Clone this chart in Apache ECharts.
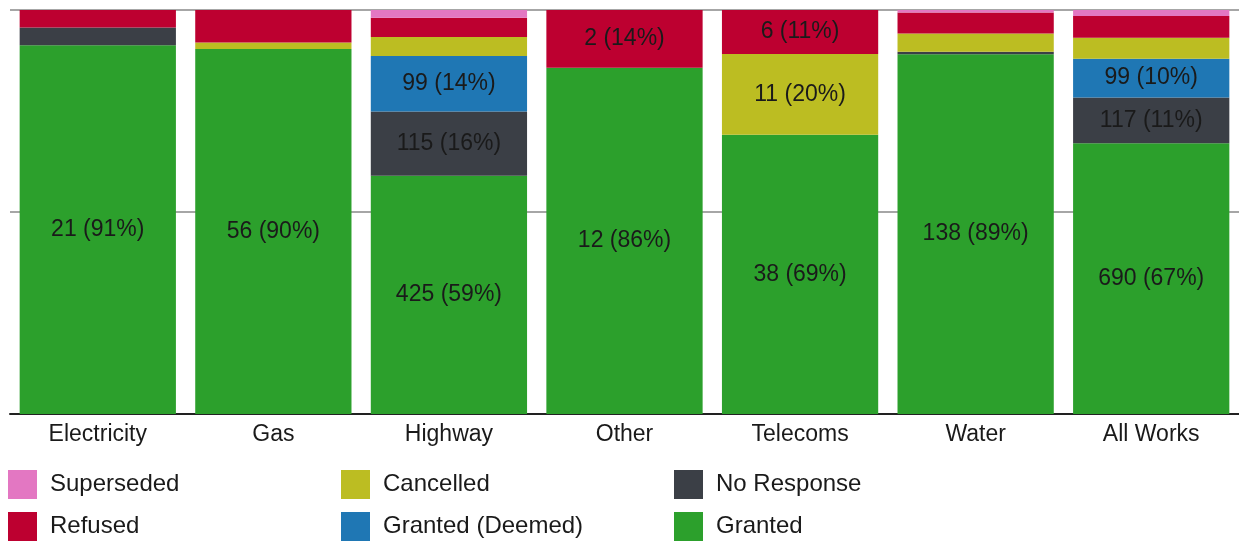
<!DOCTYPE html>
<html>
<head>
<meta charset="utf-8">
<script src="https://cdn.jsdelivr.net/npm/echarts@6/dist/echarts.min.js"></script>
<style>
  html, body { margin: 0; padding: 0; background: #fff; }
  #chart { width: 1239px; height: 542px; }
</style>
</head>
<body>
<div id="chart"></div>
<script>
// categories along the x axis
const categories = ["Electricity", "Gas", "Highway", "Other", "Telecoms", "Water", "All Works"];

// counts per outcome, stacked bottom to top
const granted      = [21, 56, 425, 12, 38, 138, 690];
const noResponse   = [1, 0, 115, 0, 0, 1, 117];
const grantedDeem  = [0, 0, 99, 0, 0, 0, 99];
const cancelled    = [0, 1, 34, 0, 11, 7, 53];
const refused      = [1, 5, 34, 2, 6, 8, 56];
const superseded   = [0, 0, 14, 0, 0, 1, 15];

const seriesNames = ["Granted", "No Response", "Granted (Deemed)", "Cancelled", "Refused", "Superseded"];
const seriesData = [granted, noResponse, grantedDeem, cancelled, refused, superseded];
const seriesColors = ["#2ca02c", "#3b3f46", "#1f77b4", "#bcbd22", "#bd0030", "#e377c2"];

const totals = categories.map((_, i) => seriesData.reduce((s, arr) => s + arr[i], 0));

const FONT = "Liberation Sans, Arial, sans-serif";

const chart = echarts.init(document.getElementById("chart"));

const series = seriesNames.map((name, k) => ({
  name,
  type: "bar",
  stack: "total",
  barCategoryGap: "11%",
  itemStyle: { color: seriesColors[k] },
  data: seriesData[k].map((v, i) => {
    const pct = (v / totals[i]) * 100;
    return {
      value: pct,
      label: {
        // only segments that round to 10% or more get a label
        show: Math.round(pct) >= 10,
        position: "inside",
        formatter: () => `${v} (${Math.round(pct)}%)`,
        color: "#1a1a1a",
        fontSize: 23,
        fontFamily: FONT,
      },
    };
  }),
}));

// legend laid out as a 3x2 grid
const legendLayout = [
  ["Superseded", 8, 470],
  ["Cancelled", 341, 470],
  ["No Response", 674, 470],
  ["Refused", 8, 512],
  ["Granted (Deemed)", 341, 512],
  ["Granted", 674, 512],
];

chart.setOption({
  animation: false,
  textStyle: { fontFamily: FONT },
  grid: { left: 10, right: -2, top: 10, bottom: 128 },
  legend: legendLayout.map(([name, x, y]) => ({
    data: [name],
    left: x,
    top: y,
    padding: 0,
    icon: "rect",
    itemWidth: 29,
    itemHeight: 29,
    textStyle: { fontSize: 24, color: "#1a1a1a", padding: [0, 0, 0, 8] },
    selectedMode: false,
  })),
  xAxis: {
    type: "category",
    data: categories,
    axisTick: { show: false },
    axisLine: { lineStyle: { color: "#222", width: 2 } },
    axisLabel: { fontSize: 23, color: "#1a1a1a", margin: 9 },
  },
  yAxis: {
    type: "value",
    min: 0,
    max: 100,
    interval: 50,
    axisLabel: { show: false },
    axisLine: { show: false },
    axisTick: { show: false },
    splitLine: { lineStyle: { color: "#888", width: 1.5 } },
  },
  series,
});
</script>
</body>
</html>
